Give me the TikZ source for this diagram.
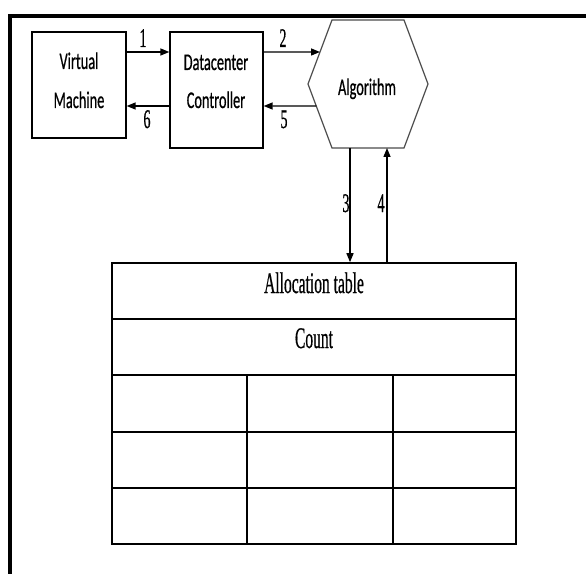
\documentclass[tikz,border=0pt]{standalone}
\usepackage{fontspec}
\usepackage{graphicx}
\setmainfont{Liberation Serif}[FakeBold=0.8]
\newfontfamily\calib{Carlito}[FakeBold=0.8]
\usetikzlibrary{arrows.meta,calc}
\newcommand\sqz[1]{\scalebox{0.6}[1]{#1}}
\newcommand\sqs[1]{\scalebox{0.52}[1]{#1}}
\begin{document}
\begin{tikzpicture}[x=1bp,y=-1bp,
  box/.style={draw, line width=1.3bp, inner sep=0pt},
  sans/.style={font=\calib\fontsize{24}{29}\selectfont, anchor=base, inner sep=0pt},
  serif/.style={font=\fontsize{30}{36}\selectfont, anchor=base, inner sep=0pt},
  num/.style={font=\fontsize{27}{32}\selectfont, anchor=base, inner sep=0pt},
  conn/.style={line width=1.4bp, -{Triangle[length=9bp,width=7bp]}},
  cell/.style={draw, line width=1.6bp, inner sep=0pt}]
\useasboundingbox (0,0) rectangle (586,574);
\fill[white] (0,0) rectangle (586,574);
\draw[line width=4bp] (10,578) -- (10,16) -- (590,16);
% boxes
\node[box, minimum width=94bp, minimum height=106bp] (vm) at (79,85) {};
\node[sans] (vmA) at (79,69) {\sqz{Virtual}};
\node[sans] (vmB) at (79,108) {\sqz{Machine}};
\node[box, minimum width=93bp, minimum height=116bp] (dc) at (216.5,90) {};
\node[sans] (dcA) at (216,70) {\sqz{Datacenter}};
\node[sans] (dcB) at (216,108) {\sqz{Controller}};
% hexagon
\coordinate (h1) at (332,20);
\coordinate (h2) at (404,20);
\coordinate (h3) at (428,84);
\coordinate (h4) at (404,148);
\coordinate (h5) at (332,148);
\coordinate (h6) at (308,84);
\draw[line width=1.2bp, draw=black!70] (h1)--(h2)--(h3)--(h4)--(h5)--(h6)--cycle;
\node[sans] (alg) at (367,95) {\sqz{Algorithm}};
% table
\node[cell, minimum width=404bp, minimum height=56bp] (alloc) at (314,291) {};
\node[serif] (allocT) at (314,293) {\sqs{Allocation table}};
\node[cell, minimum width=404bp, minimum height=56bp] (count) at (314,347) {};
\node[serif] (countT) at (314,348) {\sqs{Count}};
\foreach \r/\yc/\h in {1/403.5/57, 2/460/56, 3/516/56}{
  \node[cell, minimum width=135bp, minimum height=\h bp] (c\r a) at (179.5,\yc) {};
  \node[cell, minimum width=146bp, minimum height=\h bp] (c\r b) at (320,\yc) {};
  \node[cell, minimum width=123bp, minimum height=\h bp] (c\r c) at (454.5,\yc) {};
}
% connectors
\draw[conn] ([yshift=33bp]vm.east) -- ([yshift=33bp]vm.east -| dc.west);
\node[num] (n1) at (143,47) {\sqs{1}};
\draw[conn] ([yshift=-21bp]vm.east -| dc.west) -- ([yshift=-21bp]vm.east);
\node[num] (n6) at (147,128) {\sqs{6}};
\draw[conn] ([yshift=38bp]dc.east) -- ($(h6)!0.5!(h1)$);
\node[num] (n2) at (283,47) {\sqs{2}};
\draw[conn] ($(h6)!0.344!(h5)$) -- ([yshift=-16bp]dc.east);
\node[num] (n5) at (284,128) {\sqs{5}};
\coordinate (a3) at ($(h5)!0.25!(h4)$);
\coordinate (a4) at ($(h5)!0.764!(h4)$);
\draw[conn] (a3) -- (a3 |- alloc.north);
\node[num] (n3) at (346,212) {\sqs{3}};
\draw[conn] (a4 |- alloc.north) -- (a4);
\node[num] (n4) at (381,212) {\sqs{4}};
\end{tikzpicture}
\end{document}
